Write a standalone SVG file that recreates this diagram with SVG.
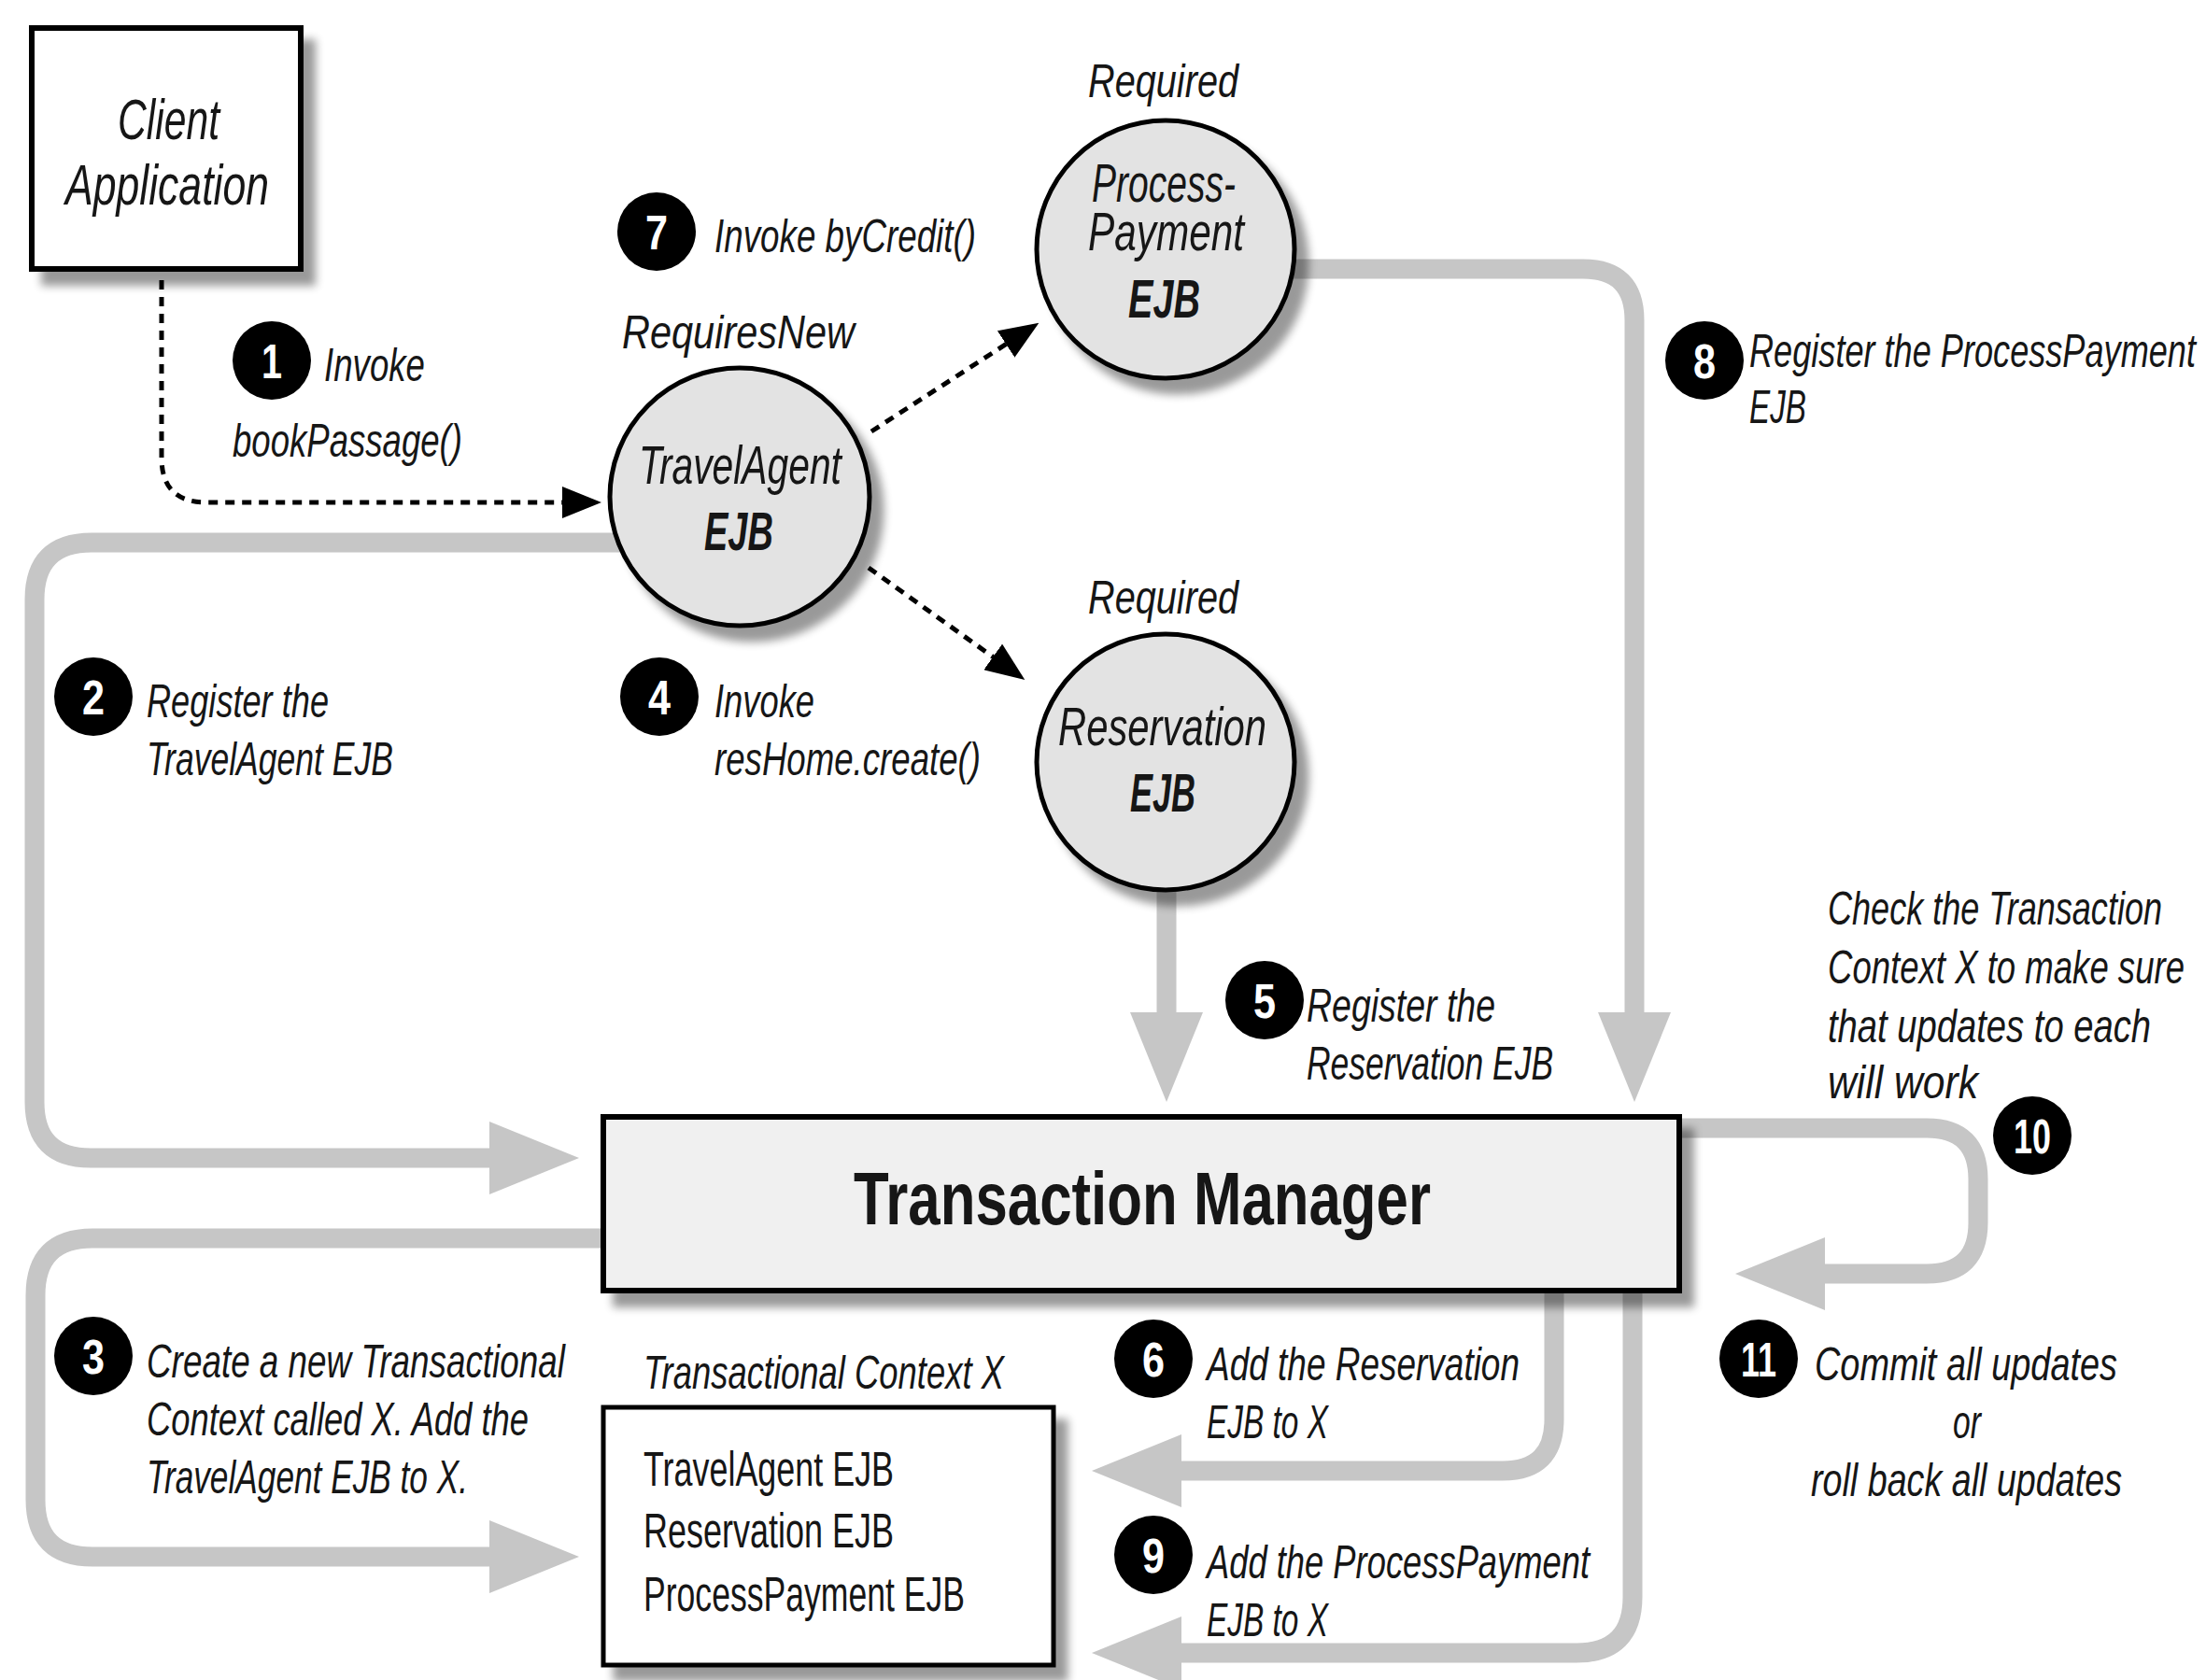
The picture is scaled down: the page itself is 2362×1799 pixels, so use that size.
<svg xmlns="http://www.w3.org/2000/svg" width="2362" height="1799" viewBox="0 0 2362 1799">
<style>
text{font-family:"Liberation Sans",Arial,sans-serif;fill:#161616}
.lbl{font-style:italic;font-size:50px}
.nd{font-style:italic;font-size:58px}
.b{font-weight:bold}
.cl{font-style:italic;font-size:62px}
.ctx{font-size:52px}
.num{fill:#fff;font-weight:bold;font-size:52px;text-anchor:middle}
.badge{fill:#000}
.gray{fill:none;stroke:#c6c6c6;stroke-width:21}
.dot{fill:none;stroke:#000;stroke-width:5;stroke-dasharray:10 8}
.circ{fill:#e3e3e3;stroke:#000;stroke-width:5}
.box{stroke:#000;stroke-width:6}
</style>
<defs>
<filter id="sh" x="-20%" y="-20%" width="150%" height="150%">
<feGaussianBlur in="SourceAlpha" stdDeviation="5"/>
<feOffset dx="13" dy="15"/>
<feComponentTransfer><feFuncA type="linear" slope="0.4"/></feComponentTransfer>
<feMerge><feMergeNode/><feMergeNode in="SourceGraphic"/></feMerge>
</filter>
<marker id="ga" markerUnits="userSpaceOnUse" markerWidth="96" markerHeight="78" refX="1" refY="39" orient="auto" viewBox="0 0 96 78">
<path d="M0,0 L96,39 L0,78 z" fill="#c6c6c6"/>
</marker>
<marker id="ba" markerUnits="userSpaceOnUse" markerWidth="42" markerHeight="34" refX="1" refY="17" orient="auto" viewBox="0 0 42 34">
<path d="M0,0 L42,17 L0,34 z" fill="#000"/>
</marker>
</defs>
<rect width="2362" height="1799" fill="#fff"/>

<g id="connectors">
<path class="gray" d="M700 581 H98 Q37 581 37 642 V1180 Q37 1240 97 1240 H525" marker-end="url(#ga)"/>
<path class="gray" d="M700 1326 H99 Q38 1326 38 1387 V1606 Q38 1667 99 1667 H525" marker-end="url(#ga)"/>
<path class="gray" d="M1300 288 H1695 Q1750 288 1750 343 V1085" marker-end="url(#ga)"/>
<path class="gray" d="M1249 930 V1085" marker-end="url(#ga)"/>
<path class="gray" d="M1664 1370 V1520 Q1664 1575 1609 1575 H1264" marker-end="url(#ga)"/>
<path class="gray" d="M1748 1370 V1710 Q1748 1770 1688 1770 H1264" marker-end="url(#ga)"/>
<path class="gray" d="M1790 1208 H2063 Q2118 1208 2118 1263 V1309 Q2118 1364 2063 1364 H1953" marker-end="url(#ga)"/>
<path class="dot" d="M173 300 V490 Q173 538 221 538 H603" marker-end="url(#ba)"/>
<path class="dot" d="M933 462 L1078 368" marker-end="url(#ba)"/>
<path class="dot" d="M930 608 L1064 704" marker-end="url(#ba)"/>
</g>

<g id="client">
<rect class="box" x="34" y="30" width="288" height="258" fill="#fff" filter="url(#sh)"/>
<text class="cl" transform="translate(126 149) scale(.74 1)" textLength="147.3" lengthAdjust="spacingAndGlyphs">Client</text>
<text class="cl" transform="translate(70 219) scale(.74 1)" textLength="294.6" lengthAdjust="spacingAndGlyphs">Application</text>
</g>

<g id="travelagent">
<ellipse class="circ" cx="792" cy="532" rx="139" ry="138" filter="url(#sh)"/>
<text class="lbl" transform="translate(666 373) scale(.74 1)" textLength="336.5" lengthAdjust="spacingAndGlyphs">RequiresNew</text>
<text class="nd" transform="translate(684 518) scale(.74 1)" textLength="293.2" lengthAdjust="spacingAndGlyphs">TravelAgent</text>
<text class="nd b" transform="translate(754 589) scale(.74 1)" textLength="100" lengthAdjust="spacingAndGlyphs">EJB</text>
</g>

<g id="processpayment">
<ellipse class="circ" cx="1248" cy="267" rx="138" ry="138" filter="url(#sh)"/>
<text class="lbl" transform="translate(1165 104) scale(.74 1)" textLength="217.6" lengthAdjust="spacingAndGlyphs">Required</text>
<text class="nd" transform="translate(1169 216) scale(.74 1)" textLength="208.1" lengthAdjust="spacingAndGlyphs">Process-</text>
<text class="nd" transform="translate(1165 268) scale(.74 1)" textLength="225.7" lengthAdjust="spacingAndGlyphs">Payment</text>
<text class="nd b" transform="translate(1208 340) scale(.74 1)" textLength="104.1" lengthAdjust="spacingAndGlyphs">EJB</text>
</g>

<g id="reservation">
<ellipse class="circ" cx="1248" cy="816" rx="138" ry="137" filter="url(#sh)"/>
<text class="lbl" transform="translate(1165 657) scale(.74 1)" textLength="217.6" lengthAdjust="spacingAndGlyphs">Required</text>
<text class="nd" transform="translate(1133 798) scale(.74 1)" textLength="301.4" lengthAdjust="spacingAndGlyphs">Reservation</text>
<text class="nd b" transform="translate(1210 869) scale(.74 1)" textLength="94.6" lengthAdjust="spacingAndGlyphs">EJB</text>
</g>

<g id="transaction-manager">
<rect class="box" x="646" y="1196" width="1152" height="186" fill="#f0f0f0" filter="url(#sh)"/>
<text font-size="80" font-weight="bold" transform="translate(914 1311) scale(.77 1)" textLength="802.6" lengthAdjust="spacingAndGlyphs">Transaction Manager</text>
</g>

<g id="transactional-context">
<text class="lbl" transform="translate(689 1487) scale(.74 1)" textLength="521.6" lengthAdjust="spacingAndGlyphs">Transactional Context X</text>
<rect x="646" y="1507" width="482" height="276" fill="#fff" stroke="#000" stroke-width="5" filter="url(#sh)"/>
<text class="ctx" transform="translate(689 1591) scale(.74 1)" textLength="362.2" lengthAdjust="spacingAndGlyphs">TravelAgent EJB</text>
<text class="ctx" transform="translate(689 1657) scale(.74 1)" textLength="362.2" lengthAdjust="spacingAndGlyphs">Reservation EJB</text>
<text class="ctx" transform="translate(689 1725) scale(.74 1)" textLength="464.9" lengthAdjust="spacingAndGlyphs">ProcessPayment EJB</text>
</g>

<g id="step1">
<circle class="badge" cx="291" cy="386" r="42"/>
<text class="num" x="291" y="405" textLength="22" lengthAdjust="spacingAndGlyphs">1</text>
<text class="lbl" transform="translate(347 408) scale(.74 1)" textLength="145.9" lengthAdjust="spacingAndGlyphs">Invoke</text>
<text class="lbl" transform="translate(249 489) scale(.74 1)" textLength="332.4" lengthAdjust="spacingAndGlyphs">bookPassage()</text>
</g>
<g id="step2">
<circle class="badge" cx="100" cy="746" r="42"/>
<text class="num" x="100" y="765" textLength="24" lengthAdjust="spacingAndGlyphs">2</text>
<text class="lbl" transform="translate(157 768) scale(.74 1)" textLength="263.5" lengthAdjust="spacingAndGlyphs">Register the</text>
<text class="lbl" transform="translate(157 830) scale(.74 1)" textLength="356.8" lengthAdjust="spacingAndGlyphs">TravelAgent EJB</text>
</g>
<g id="step3">
<circle class="badge" cx="100" cy="1452" r="42"/>
<text class="num" x="100" y="1471" textLength="24" lengthAdjust="spacingAndGlyphs">3</text>
<text class="lbl" transform="translate(157 1475) scale(.74 1)" textLength="605.4" lengthAdjust="spacingAndGlyphs">Create a new Transactional</text>
<text class="lbl" transform="translate(157 1537) scale(.74 1)" textLength="552.7" lengthAdjust="spacingAndGlyphs">Context called X. Add the</text>
<text class="lbl" transform="translate(157 1599) scale(.74 1)" textLength="464.9" lengthAdjust="spacingAndGlyphs">TravelAgent EJB to X.</text>
</g>
<g id="step4">
<circle class="badge" cx="706" cy="746" r="42"/>
<text class="num" x="706" y="765" textLength="24" lengthAdjust="spacingAndGlyphs">4</text>
<text class="lbl" transform="translate(765 768) scale(.74 1)" textLength="144.6" lengthAdjust="spacingAndGlyphs">Invoke</text>
<text class="lbl" transform="translate(765 830) scale(.74 1)" textLength="385.1" lengthAdjust="spacingAndGlyphs">resHome.create()</text>
</g>
<g id="step5">
<circle class="badge" cx="1354" cy="1071" r="42"/>
<text class="num" x="1354" y="1090" textLength="24" lengthAdjust="spacingAndGlyphs">5</text>
<text class="lbl" transform="translate(1399 1094) scale(.74 1)" textLength="273" lengthAdjust="spacingAndGlyphs">Register the</text>
<text class="lbl" transform="translate(1399 1156) scale(.74 1)" textLength="356.8" lengthAdjust="spacingAndGlyphs">Reservation EJB</text>
</g>
<g id="step6">
<circle class="badge" cx="1235" cy="1455" r="42"/>
<text class="num" x="1235" y="1474" textLength="24" lengthAdjust="spacingAndGlyphs">6</text>
<text class="lbl" transform="translate(1292 1478) scale(.74 1)" textLength="452.7" lengthAdjust="spacingAndGlyphs">Add the Reservation</text>
<text class="lbl" transform="translate(1292 1540) scale(.74 1)" textLength="175.7" lengthAdjust="spacingAndGlyphs">EJB to X</text>
</g>
<g id="step7">
<circle class="badge" cx="703" cy="248" r="42"/>
<text class="num" x="703" y="267" textLength="24" lengthAdjust="spacingAndGlyphs">7</text>
<text class="lbl" transform="translate(765 270) scale(.74 1)" textLength="378.4" lengthAdjust="spacingAndGlyphs">Invoke byCredit()</text>
</g>
<g id="step8">
<circle class="badge" cx="1825" cy="386" r="42"/>
<text class="num" x="1825" y="405" textLength="24" lengthAdjust="spacingAndGlyphs">8</text>
<text class="lbl" transform="translate(1873 393) scale(.74 1)" textLength="645.9" lengthAdjust="spacingAndGlyphs">Register the ProcessPayment</text>
<text class="lbl" transform="translate(1873 453) scale(.74 1)" textLength="82.4" lengthAdjust="spacingAndGlyphs">EJB</text>
</g>
<g id="step9">
<circle class="badge" cx="1235" cy="1665" r="42"/>
<text class="num" x="1235" y="1684" textLength="24" lengthAdjust="spacingAndGlyphs">9</text>
<text class="lbl" transform="translate(1292 1690) scale(.74 1)" textLength="554.1" lengthAdjust="spacingAndGlyphs">Add the ProcessPayment</text>
<text class="lbl" transform="translate(1292 1752) scale(.74 1)" textLength="175.7" lengthAdjust="spacingAndGlyphs">EJB to X</text>
</g>
<g id="step10">
<text class="lbl" transform="translate(1957 990) scale(.74 1)" textLength="483.8" lengthAdjust="spacingAndGlyphs">Check the Transaction</text>
<text class="lbl" transform="translate(1957 1053) scale(.74 1)" textLength="516.2" lengthAdjust="spacingAndGlyphs">Context X to make sure</text>
<text class="lbl" transform="translate(1957 1116) scale(.74 1)" textLength="467.6" lengthAdjust="spacingAndGlyphs">that updates to each</text>
<text class="lbl" transform="translate(1957 1176) scale(.74 1)" textLength="217.6" lengthAdjust="spacingAndGlyphs">will work</text>
<circle class="badge" cx="2176" cy="1216" r="42"/>
<text class="num" x="2176" y="1235" textLength="40" lengthAdjust="spacingAndGlyphs">10</text>
</g>
<g id="step11">
<circle class="badge" cx="1883" cy="1455" r="42"/>
<text class="num" x="1883" y="1474" textLength="38" lengthAdjust="spacingAndGlyphs">11</text>
<text class="lbl" transform="translate(1943 1478) scale(.74 1)" textLength="437.8" lengthAdjust="spacingAndGlyphs">Commit all updates</text>
<text class="lbl" text-anchor="middle" transform="translate(2106 1540) scale(.74 1)" textLength="40.5" lengthAdjust="spacingAndGlyphs">or</text>
<text class="lbl" transform="translate(1939 1602) scale(.74 1)" textLength="450" lengthAdjust="spacingAndGlyphs">roll back all updates</text>
</g>
</svg>
